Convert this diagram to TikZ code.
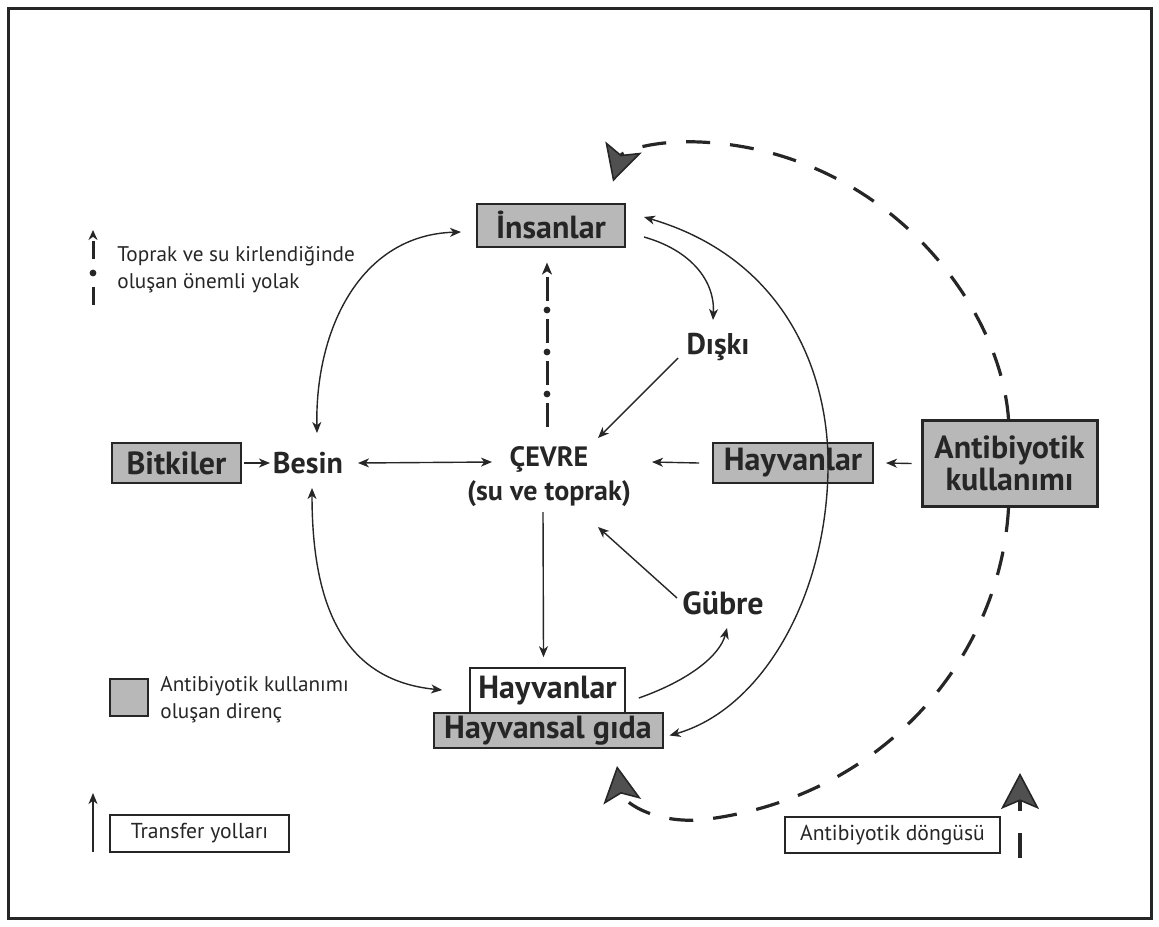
\documentclass[tikz,border=0pt]{standalone}
\usepackage{fontspec}
\setmainfont{PT Sans}
\usetikzlibrary{arrows.meta,calc,decorations.markings}
\definecolor{dk}{HTML}{262626}
\definecolor{gfill}{HTML}{B8B8B8}
\definecolor{headfill}{HTML}{505050}
\tikzset{
  gbox/.style={draw=dk, fill=gfill, line width=1pt, inner sep=0pt, text=dk,
    font=\bfseries\fontsize{16}{18}\selectfont},
  wbox/.style={draw=dk, fill=white, line width=0.8pt, inner sep=0pt, text=dk,
    font=\bfseries\fontsize{16}{18}\selectfont},
  lbl/.style={inner sep=0pt, text=dk, font=\bfseries\fontsize{15}{17}\selectfont, align=center},
  legtxt/.style={inner sep=0pt, text=dk, anchor=west, align=left, font=\fontsize{10.6}{13.5}\selectfont},
  legbox/.style={draw=dk, fill=white, line width=0.8pt, inner sep=0pt, text=dk, font=\fontsize{10.8}{12}\selectfont},
  arr/.style={draw=dk, line width=0.7pt, -{Stealth[length=5.5pt,width=4.5pt,inset=1.6pt]}},
  darr/.style={draw=dk, line width=0.7pt, {Stealth[length=5.5pt,width=4.5pt,inset=1.6pt]}-{Stealth[length=5.5pt,width=4.5pt,inset=1.6pt]}},
  bigdash/.style={draw=dk, line width=1.6pt, dash pattern=on 12pt off 10pt,
    -{Stealth[length=18pt,width=19pt,inset=4pt,fill=headfill,line width=0.8pt]}},
  dotdash/.style={draw=dk, line width=1.5pt, dash pattern=on 12pt off 9pt,
    -{Stealth[length=6pt,width=5pt,inset=1.6pt]},
    postaction={decorate, decoration={markings,
      mark=at position 16.5pt with {\fill[dk] (0,0) circle (1.7pt);},
      mark=at position 37.5pt with {\fill[dk] (0,0) circle (1.7pt);},
      mark=at position 58.5pt with {\fill[dk] (0,0) circle (1.7pt);}}}},
  legdotdash/.style={draw=dk, line width=1.5pt, dash pattern=on 9pt off 14pt on 9pt off 10pt,
    -{Stealth[length=5pt,width=4.5pt,inset=1.6pt]},
    postaction={decorate, decoration={markings,
      mark=at position 16pt with {\fill[dk] (0,0) circle (1.7pt);}}}}
}
\begin{document}
\begin{tikzpicture}[x=0.5pt,y=-0.5pt]
\useasboundingbox (0,0) rectangle (1159,926);
\draw[dk, line width=1.5pt] (8,8) rectangle (1151,918);

% main nodes
\node[gbox, minimum width=74pt, minimum height=21.5pt] (insan) at (551,225) {İnsanlar};
\node[gbox, minimum width=64.5pt, minimum height=20pt] (bitki) at (176.5,463) {Bitkiler};
\node[lbl] (besin) at (308,463) {Besin};
\node[lbl, font=\bfseries\fontsize{14}{17}\selectfont] (cevre) at (549,477) {ÇEVRE\\(su ve toprak)};
\node[lbl] (diski) at (718,347) {Dışkı};
\node[lbl, font=\bfseries\fontsize{16}{17}\selectfont] (gubre) at (723,603) {Gübre};
\node[gbox, minimum width=80pt, minimum height=20pt] (hayR) at (793,463) {Hayvanlar};
\node[gbox, line width=1.5pt, minimum width=87.5pt, minimum height=43pt, align=center,
      font=\bfseries\fontsize{16}{16}\selectfont] (anti) at (1009.5,463.5) {Antibiyotik\\kullanımı};
\node[wbox, minimum width=77.5pt, minimum height=23pt] (hayW) at (547.5,691) {Hayvanlar};
\node[gbox, minimum width=114.5pt, minimum height=17.5pt] (hayS) at (548,730.5) {Hayvansal gıda};

% legend
\coordinate (l1a) at (93,305);
\coordinate (l1b) at (93,230);
\draw[legdotdash] (l1a) -- (l1b);
\node[legtxt] (leg1) at (117,270) {Toprak ve su kirlendiğinde\\oluşan önemli yolak};
\node[draw=dk, fill=gfill, line width=1pt, minimum width=19pt, minimum height=18.5pt, inner sep=0pt] (legsq) at (129,697) {};
\node[legtxt] (leg2) at (160,700) {Antibiyotik kullanımı\\oluşan direnç};
\node[legbox, minimum width=89.5pt, minimum height=18.5pt] (transfer) at (199.5,833.5) {Transfer yolları};
\coordinate (l3a) at (93,852);
\coordinate (l3b) at (93,793);
\draw[arr] (l3a) -- (l3b);
\node[legbox, minimum width=107.5pt, minimum height=18pt] (dongu) at (892.5,835) {Antibiyotik döngüsü};
\coordinate (l4a) at (1020,858);
\coordinate (l4b) at (1020,773);
\draw[bigdash, dash pattern=on 12.5pt off 11pt] (l4a) -- (l4b);

% connectors
\draw[darr] ($(besin)+(9,-30)$) .. controls (315,330) and (360,235) .. ($(insan.west)+(-15,7)$);
\draw[darr] ($(besin)+(4,25)$) .. controls (312,600) and (340,680) .. ($(hayW.west)+(-27,-1)$);
\draw[arr] ($(bitki.east)+(2,0)$) -- ($(besin)+(-38,0)$);
\draw[darr] ($(besin)+(50,0)$) -- ($(cevre)+(-57,-15)$);
\draw[arr] ($(hayR.west)+(-13,0)$) -- ($(cevre)+(103,-15)$);
\draw[arr] ($(anti.west)+(-9,0)$) -- ($(hayR.east)+(12,0)$);
\draw[arr] ($(diski)+(-40,11)$) -- ($(cevre)+(49,-39)$);
\draw[arr] ($(gubre)+(-46,-5)$) -- ($(cevre)+(49,50)$);
\draw[arr] ($(cevre)+(-6,35)$) -- ($(hayW.north)+(-4,-10)$);
\draw[arr] ($(hayW.east)+(13,7)$) .. controls (690,680) and (720,655) .. ($(gubre)+(4,25)$);
\draw[arr] ($(insan.east)+(18,12)$) .. controls (690,250) and (715,280) .. ($(diski)+(-5,-27)$);
\draw[darr] ($(insan.east)+(18,-8)$) .. controls (790,260) and (830,380) .. (828,470)
   .. controls (826,600) and (760,710) .. ($(hayS.east)+(6,5)$);
\draw[dotdash] ($(cevre)+(-2,-50)$) -- ($(insan.south)+(-4,15)$);

% antibiotic cycle
\coordinate (topend) at ($(insan.north)+(62,-21)$);
\coordinate (botend) at ($(hayS.south)+(69,17)$);
\draw[bigdash] ($(anti.north)+(-1,0)$) .. controls (1000,300) and (880,150) .. (700,142)
   .. controls (650,140) and (622,152) .. (topend);
\draw[bigdash] ($(anti.south)+(-1,0)$) .. controls (1000,660) and (880,800) .. (700,820)
   .. controls (650,823) and (622,800) .. (botend);
\end{tikzpicture}
\end{document}
